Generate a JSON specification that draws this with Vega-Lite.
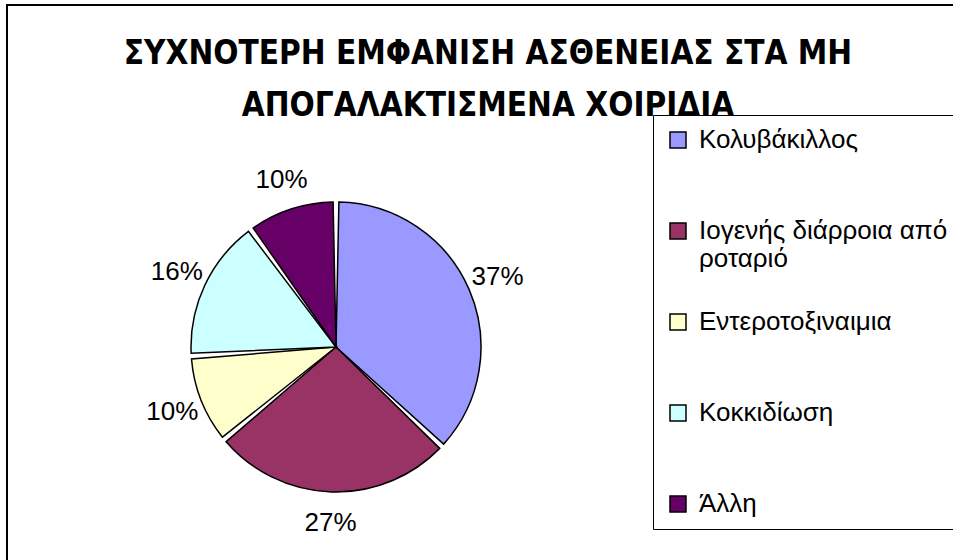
{
  "$schema": "https://vega.github.io/schema/vega-lite/v6.json",
  "width": 1000,
  "height": 600,
  "autosize": {"type": "none"},
  "padding": {"left": 7, "top": 5, "right": 0, "bottom": 0},
  "background": "white",
  "view": {"stroke": "black", "strokeWidth": 2, "fill": "white"},
  "config": {
    "font": "Liberation Sans"
  },
  "title": {
    "text": ["ΣΥΧΝΟΤΕΡΗ ΕΜΦΑΝΙΣΗ ΑΣΘΕΝΕΙΑΣ ΣΤΑ ΜΗ", "ΑΠΟΓΑΛΑΚΤΙΣΜΕΝΑ ΧΟΙΡΙΔΙΑ"],
    "font": "Liberation Sans Narrow, DejaVu Sans Condensed, sans-serif",
    "fontSize": 33,
    "fontWeight": "bold",
    "color": "black",
    "lineHeight": 52,
    "anchor": "middle",
    "frame": "group",
    "baseline": "top",
    "orient": "top",
    "offset": -30,
    "dx": -19,
    "dy": 88
  },
  "data": {
    "values": [
      {"disease": "Κολυβάκιλλος", "share": 0.37, "order": 1},
      {"disease": "Ιογενής διάρροια από ροταριό", "share": 0.27, "order": 2},
      {"disease": "Εντεροτοξιναιμια", "share": 0.10, "order": 3},
      {"disease": "Κοκκιδίωση", "share": 0.16, "order": 4},
      {"disease": "Άλλη", "share": 0.10, "order": 5}
    ]
  },
  "encoding": {
    "theta": {"field": "share", "type": "quantitative", "stack": true},
    "order": {"field": "order", "type": "quantitative"}
  },
  "layer": [
    {
      "mark": {"type": "arc", "x": 329, "y": 342, "outerRadius": 145, "stroke": "black", "strokeWidth": 1.5, "padAngle": 0.04},
      "encoding": {
        "color": {
          "field": "disease",
          "type": "nominal",
          "scale": {
            "domain": ["Κολυβάκιλλος", "Ιογενής διάρροια από ροταριό", "Εντεροτοξιναιμια", "Κοκκιδίωση", "Άλλη"],
            "range": ["#9999FF", "#993366", "#FFFFCC", "#CCFFFF", "#660066"]
          },
          "legend": {
            "title": null,
            "orient": "none",
            "legendX": 646,
            "legendY": 110,
            "strokeColor": "black",
            "padding": 12,
            "symbolType": "square",
            "symbolSize": 256,
            "symbolStrokeColor": "black",
            "symbolStrokeWidth": 1.5,
            "symbolOpacity": 1,
            "labelFontSize": 26,
            "labelFont": "Liberation Sans",
            "labelColor": "black",
            "labelLimit": 400,
            "gridAlign": "all",
            "rowPadding": 37,
            "labelOffset": 8,
            "labelExpr": "datum.label == 'Ιογενής διάρροια από ροταριό' ? ['Ιογενής διάρροια από', 'ροταριό'] : datum.label"
          }
        }
      }
    },
    {
      "mark": {"type": "text", "x": 329, "y": 342, "radius": 176, "fontSize": 26, "color": "black", "font": "Liberation Sans"},
      "encoding": {
        "text": {"field": "share", "type": "quantitative", "format": ".0%"},
        "detail": {"field": "disease"}
      }
    }
  ]
}
